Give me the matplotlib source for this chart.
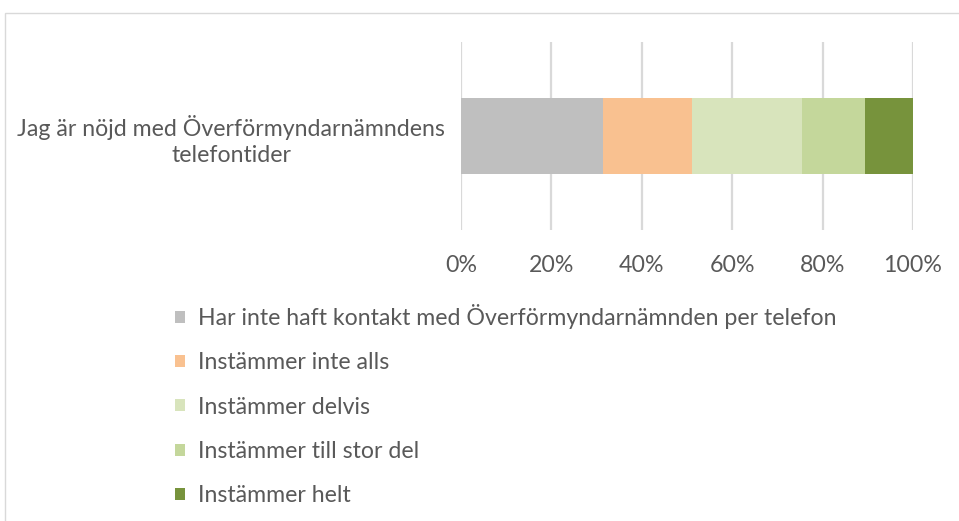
import matplotlib
matplotlib.use("Agg")
import matplotlib.pyplot as plt
import matplotlib.patches as mpatches
import matplotlib.ticker as ticker

# ── Data ──────────────────────────────────────────────────────────────────────
question = "Jag är nöjd med Överförmyndarnämndens\ntelefontider"
categories = [
    "Har inte haft kontakt med Överförmyndarnämnden per telefon",
    "Instämmer inte alls",
    "Instämmer delvis",
    "Instämmer till stor del",
    "Instämmer helt",
]
shares = [31.5, 19.5, 24.5, 13.9, 10.6]   # percent
x_ticks = [0, 20, 40, 60, 80, 100]

# ── Style ─────────────────────────────────────────────────────────────────────
COLORS = ["#BFBFBF", "#F9C190", "#D8E4BC", "#C4D79B", "#77933C"]
TEXT = "#595959"
GRID = "#D9D9D9"
FONT = ["Lato", "DejaVu Sans"]
FS = 16.7

plt.rcParams["font.family"] = FONT

W, H, DPI = 959, 521, 100
fig = plt.figure(figsize=(W / DPI, H / DPI), dpi=DPI, facecolor="white")

# chart frame (right/bottom edges fall outside the image)
fig.patches.append(mpatches.Rectangle(
    (4.5 / W, -0.1), 1.2, 1 - 12.5 / H + 0.1, transform=fig.transFigure,
    fill=False, edgecolor="#D9D9D9", linewidth=1.0))

ax = fig.add_axes([461 / W, 1 - 230 / H, (913 - 461) / W, (230 - 42) / H])

left = 0
for cat, val, col in zip(categories, shares, COLORS):
    ax.barh([0], [val], left=left, height=0.408, color=col, label=cat,
            linewidth=0, zorder=3)
    left += val

ax.set_xlim(0, 100)
ax.set_ylim(-0.5, 0.5)
ax.set_xticks(x_ticks)
ax.xaxis.set_major_formatter(ticker.FuncFormatter(lambda v, _: f"{v:.0f}%"))
ax.set_yticks([0])
ax.set_yticklabels([question], multialignment="center", linespacing=1.3)
ax.tick_params(axis="both", length=0, labelsize=FS, labelcolor=TEXT)
ax.tick_params(axis="x", pad=18)
ax.tick_params(axis="y", pad=11.5)
ax.grid(axis="x", color=GRID, linewidth=1.6, zorder=0)
for s in ax.spines.values():
    s.set_visible(False)

handles, labels = ax.get_legend_handles_labels()
fig.legend(handles, labels, loc="upper left",
           bbox_to_anchor=(166 / W, 1 - 295 / H),
           frameon=False, fontsize=FS, labelcolor=TEXT,
           handlelength=0.42, handleheight=0.42, handletextpad=0.55,
           labelspacing=1.0, borderaxespad=0)

fig.savefig("out.png", dpi=DPI, facecolor="white")
